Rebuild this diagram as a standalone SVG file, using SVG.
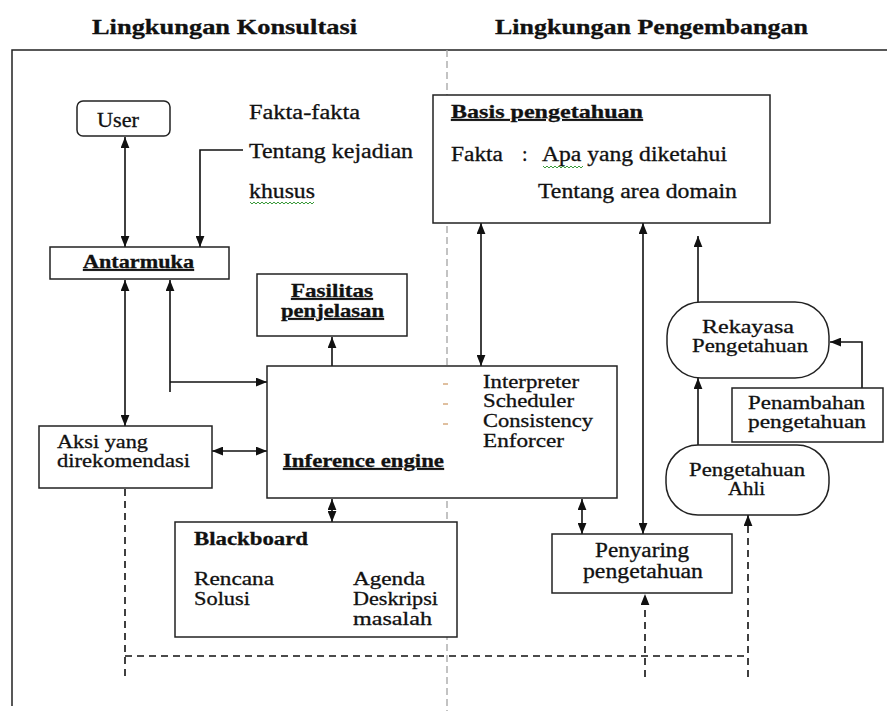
<svg xmlns="http://www.w3.org/2000/svg" width="887" height="711" viewBox="0 0 887 711">
  <style>
    text { font-family: "Liberation Serif", "Times New Roman", serif; fill: #111; stroke: #111; stroke-width: 0.3px; }
    .hd { font-weight: bold; font-size: 21px; }
    .b { font-weight: bold; }
    .u { text-decoration: underline; }
    .s18 { font-size: 18px; }
    .s19 { font-size: 19px; }
    .s20 { font-size: 20px; }
    .box { fill: #fff; stroke: #222; stroke-width: 1.5; }
    .ln { fill: none; stroke: #111; stroke-width: 1.6; }
    .dash { fill: none; stroke: #111; stroke-width: 1.6; stroke-dasharray: 7 5; }
    .sep { fill: none; stroke: #aaa; stroke-width: 1.4; stroke-dasharray: 7 4; }
    .frame { fill: none; stroke: #222; stroke-width: 1.5; }
    .squig { fill: none; stroke: #3a9a3a; stroke-width: 1; }
  </style>
  <defs>
    <marker id="arr" viewBox="0 0 10 8" refX="10" refY="4" markerWidth="11" markerHeight="9" markerUnits="userSpaceOnUse" orient="auto-start-reverse">
      <path d="M0,0 L10,4 L0,8 z" fill="#111"/>
    </marker>
  </defs>

  <rect width="887" height="711" fill="#fff"/>

  <!-- column headings -->
  <text class="hd" x="92" y="34" textLength="265" lengthAdjust="spacingAndGlyphs">Lingkungan Konsultasi</text>
  <text class="hd" x="495" y="34" textLength="313" lengthAdjust="spacingAndGlyphs">Lingkungan Pengembangan</text>

  <!-- outer frame and environment divider -->
  <path class="frame" d="M12,706 V50 H887"/>
  <path class="sep" d="M447,50 V711"/>

  <!-- connectors -->
  <g id="connectors">
    <path class="ln" d="M125,137 V247" marker-start="url(#arr)" marker-end="url(#arr)"/>
    <path class="ln" d="M243,150 H200 V247" marker-end="url(#arr)"/>
    <path class="ln" d="M125,280 V426" marker-start="url(#arr)" marker-end="url(#arr)"/>
    <path class="ln" d="M170,392 V280" marker-end="url(#arr)"/>
    <path class="ln" d="M170,382 H267" marker-end="url(#arr)"/>
    <path class="ln" d="M332,366 V337" marker-end="url(#arr)"/>
    <path class="ln" d="M212,451 H267" marker-start="url(#arr)" marker-end="url(#arr)"/>
    <path class="ln" d="M332,499 V522" marker-start="url(#arr)" marker-end="url(#arr)"/>
    <path class="ln" d="M481,223 V366" marker-start="url(#arr)" marker-end="url(#arr)"/>
    <path class="ln" d="M643,223 V534" marker-start="url(#arr)" marker-end="url(#arr)"/>
    <path class="ln" d="M582,499 V534" marker-start="url(#arr)" marker-end="url(#arr)"/>
    <path class="ln" d="M698,302 V236" marker-end="url(#arr)"/>
    <path class="ln" d="M698,445 V378" marker-end="url(#arr)"/>
    <path class="ln" d="M862,388 V342 H830" marker-end="url(#arr)"/>
    <path class="dash" d="M125,489 V677"/>
    <path class="dash" d="M125,656 H748"/>
    <path class="dash" d="M645,677 V594" marker-end="url(#arr)"/>
    <path class="dash" d="M748,677 V515" marker-end="url(#arr)"/>
  </g>

  <g id="user">
    <rect class="box" x="77" y="101" width="93" height="35" rx="6"/>
    <text class="s20" x="97" y="127" textLength="42" lengthAdjust="spacingAndGlyphs">User</text>
  </g>

  <g id="fakta-kejadian">
    <text class="s20" x="249" y="119" textLength="111" lengthAdjust="spacingAndGlyphs">Fakta-fakta</text>
    <text class="s20" x="249" y="158" textLength="164" lengthAdjust="spacingAndGlyphs">Tentang kejadian</text>
    <text class="s20" x="249" y="198" textLength="66" lengthAdjust="spacingAndGlyphs">khusus</text>
    <path class="squig" d="M250,202 l2,2 l2,-2 l2,2 l2,-2 l2,2 l2,-2 l2,2 l2,-2 l2,2 l2,-2 l2,2 l2,-2 l2,2 l2,-2 l2,2 l2,-2 l2,2 l2,-2 l2,2 l2,-2 l2,2 l2,-2 l2,2 l2,-2 l2,2 l2,-2 l2,2 l2,-2 l2,2 l2,-2 l2,2 l2,-2"/>
  </g>

  <g id="antarmuka">
    <rect class="box" x="50" y="247" width="179" height="32"/>
    <text class="b u s19" x="83" y="268" textLength="111" lengthAdjust="spacingAndGlyphs">Antarmuka</text>
  </g>

  <g id="fasilitas-penjelasan">
    <rect class="box" x="257" y="274" width="150" height="62"/>
    <text class="b u s19" x="291" y="297" textLength="82" lengthAdjust="spacingAndGlyphs">Fasilitas</text>
    <text class="b u s19" x="281" y="317" textLength="103" lengthAdjust="spacingAndGlyphs">penjelasan</text>
  </g>

  <g id="basis-pengetahuan">
    <rect class="box" x="433" y="95" width="337" height="128"/>
    <text class="b u s19" x="451" y="118" textLength="192" lengthAdjust="spacingAndGlyphs">Basis pengetahuan</text>
    <text class="s20" x="451" y="161" textLength="52" lengthAdjust="spacingAndGlyphs">Fakta</text>
    <text class="s20" x="522" y="161">:</text>
    <text class="s20" x="542" y="161" textLength="185" lengthAdjust="spacingAndGlyphs">Apa yang diketahui</text>
    <path class="squig" d="M543,166 l2,2 l2,-2 l2,2 l2,-2 l2,2 l2,-2 l2,2 l2,-2 l2,2 l2,-2 l2,2 l2,-2 l2,2 l2,-2 l2,2 l2,-2 l2,2 l2,-2 l2,2 l2,-2"/>
    <text class="s20" x="538" y="198" textLength="199" lengthAdjust="spacingAndGlyphs">Tentang area domain</text>
  </g>

  <g id="inference-engine">
    <rect class="box" x="267" y="366" width="350" height="132"/>
    <path d="M443,384 h5 M443,404 h5 M443,424 h5" stroke="#c08040" stroke-width="1"/>
    <text class="s19" x="483" y="388" textLength="96" lengthAdjust="spacingAndGlyphs">Interpreter</text>
    <text class="s19" x="483" y="407" textLength="91" lengthAdjust="spacingAndGlyphs">Scheduler</text>
    <text class="s19" x="483" y="427" textLength="110" lengthAdjust="spacingAndGlyphs">Consistency</text>
    <text class="s19" x="483" y="447" textLength="81" lengthAdjust="spacingAndGlyphs">Enforcer</text>
    <text class="b u s19" x="283" y="467" textLength="161" lengthAdjust="spacingAndGlyphs">Inference engine</text>
  </g>

  <g id="aksi">
    <rect class="box" x="39" y="426" width="173" height="62"/>
    <text class="s19" x="57" y="448" textLength="91" lengthAdjust="spacingAndGlyphs">Aksi yang</text>
    <text class="s19" x="57" y="467" textLength="133" lengthAdjust="spacingAndGlyphs">direkomendasi</text>
  </g>

  <g id="blackboard">
    <rect class="box" x="175" y="522" width="282" height="115"/>
    <text class="b s18" x="194" y="545" textLength="114" lengthAdjust="spacingAndGlyphs">Blackboard</text>
    <text class="s19" x="194" y="585" textLength="80" lengthAdjust="spacingAndGlyphs">Rencana</text>
    <text class="s19" x="194" y="605" textLength="56" lengthAdjust="spacingAndGlyphs">Solusi</text>
    <text class="s19" x="353" y="585" textLength="72" lengthAdjust="spacingAndGlyphs">Agenda</text>
    <text class="s19" x="353" y="605" textLength="85" lengthAdjust="spacingAndGlyphs">Deskripsi</text>
    <text class="s19" x="353" y="625" textLength="79" lengthAdjust="spacingAndGlyphs">masalah</text>
  </g>

  <g id="penyaring">
    <rect class="box" x="552" y="534" width="180" height="59"/>
    <text class="s20" x="595" y="557" textLength="94" lengthAdjust="spacingAndGlyphs">Penyaring</text>
    <text class="s20" x="583" y="578" textLength="120" lengthAdjust="spacingAndGlyphs">pengetahuan</text>
  </g>

  <g id="rekayasa">
    <rect class="box" x="667" y="302" width="162" height="76" rx="34" ry="34"/>
    <text class="s19" x="702" y="333" textLength="92" lengthAdjust="spacingAndGlyphs">Rekayasa</text>
    <text class="s19" x="692" y="352" textLength="116" lengthAdjust="spacingAndGlyphs">Pengetahuan</text>
  </g>

  <g id="penambahan">
    <rect class="box" x="732" y="388" width="151" height="54"/>
    <text class="s19" x="748" y="409" textLength="117" lengthAdjust="spacingAndGlyphs">Penambahan</text>
    <text class="s19" x="748" y="428" textLength="118" lengthAdjust="spacingAndGlyphs">pengetahuan</text>
  </g>

  <g id="pengetahuan-ahli">
    <rect class="box" x="666" y="445" width="163" height="70" rx="32" ry="32"/>
    <text class="s19" x="689" y="476" textLength="116" lengthAdjust="spacingAndGlyphs">Pengetahuan</text>
    <text class="s19" x="728" y="495" textLength="37" lengthAdjust="spacingAndGlyphs">Ahli</text>
  </g>
</svg>
